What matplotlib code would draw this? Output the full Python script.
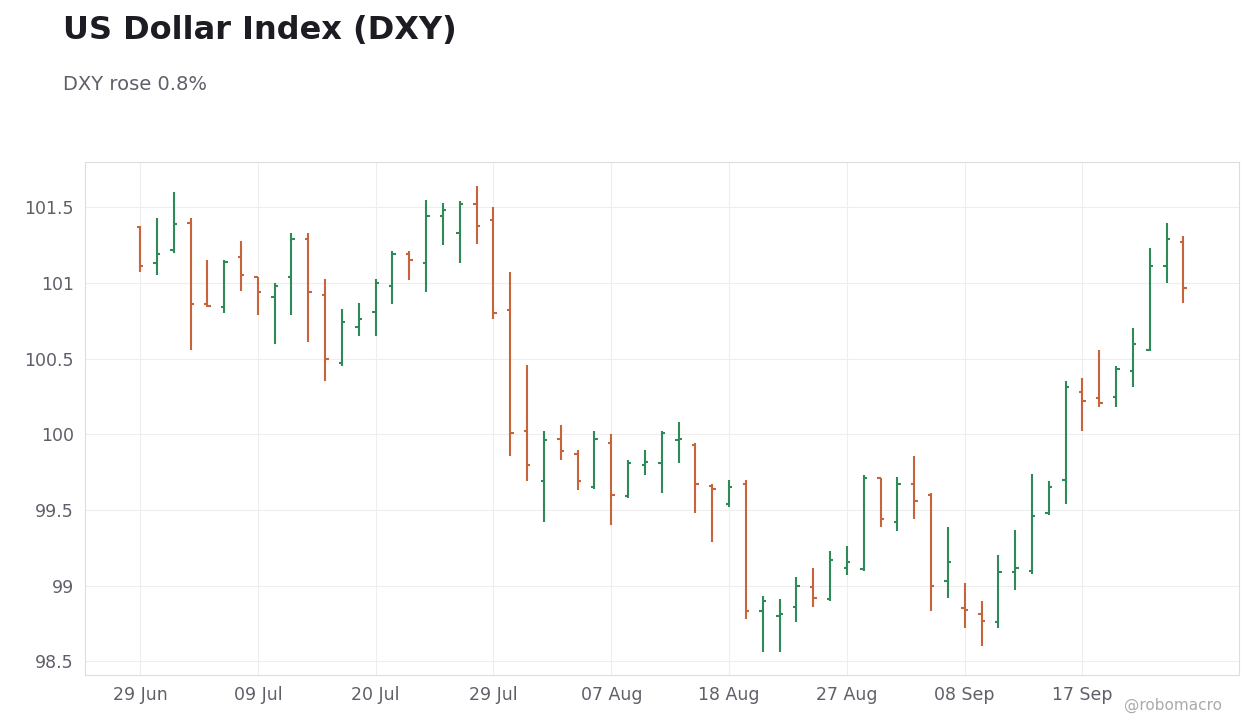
import matplotlib
matplotlib.use("Agg")
import matplotlib.pyplot as plt

opens  = [101.37,101.13,101.22,101.40,100.86,100.84,101.17,101.04,100.91,101.04,101.29,100.92,100.47,100.71,100.81,100.98,101.19,101.13,101.44,101.33,101.52,101.42,100.82,100.02,99.69,99.97,99.87,99.65,99.94,99.59,99.80,99.81,99.96,99.93,99.66,99.54,99.67,98.83,98.80,98.86,98.99,98.91,99.12,99.11,99.71,99.42,99.67,99.60,99.03,98.85,98.81,98.76,99.09,99.10,99.48,99.70,100.28,100.24,100.25,100.42,100.56,101.11,101.27]
highs  = [101.38,101.43,101.60,101.43,101.15,101.15,101.28,101.04,101.00,101.33,101.33,101.03,100.83,100.87,101.03,101.21,101.21,101.55,101.53,101.54,101.64,101.50,101.07,100.46,100.02,100.06,99.90,100.02,100.00,99.83,99.90,100.02,100.08,99.94,99.67,99.70,99.70,98.93,98.91,99.06,99.12,99.23,99.26,99.73,99.71,99.72,99.86,99.61,99.39,99.02,98.90,99.20,99.37,99.74,99.69,100.35,100.37,100.56,100.45,100.70,101.23,101.40,101.31]
lows   = [101.07,101.05,101.20,100.56,100.84,100.80,100.95,100.79,100.60,100.79,100.61,100.35,100.45,100.65,100.65,100.86,101.02,100.94,101.25,101.13,101.26,100.76,99.86,99.69,99.42,99.83,99.63,99.64,99.40,99.58,99.73,99.61,99.81,99.48,99.29,99.52,98.78,98.56,98.56,98.76,98.86,98.90,99.07,99.10,99.39,99.36,99.44,98.83,98.92,98.72,98.60,98.72,98.97,99.08,99.47,99.54,100.02,100.18,100.18,100.31,100.55,101.00,100.87]
closes = [101.11,101.19,101.39,100.86,100.85,101.14,101.05,100.94,100.98,101.29,100.94,100.50,100.74,100.76,101.00,101.19,101.15,101.44,101.48,101.52,101.38,100.80,100.01,99.80,99.96,99.89,99.69,99.97,99.60,99.81,99.82,100.01,99.97,99.67,99.64,99.65,98.83,98.90,98.81,99.00,98.92,99.17,99.16,99.71,99.44,99.67,99.56,99.00,99.16,98.84,98.77,99.09,99.12,99.46,99.65,100.31,100.22,100.21,100.43,100.60,101.11,101.29,100.97]
tick_labels = ["29 Jun","09 Jul","20 Jul","29 Jul","07 Aug","18 Aug","27 Aug","08 Sep","17 Sep"]
yticks = [98.5, 99, 99.5, 100, 100.5, 101, 101.5]
ytick_labels = ["98.5","99","99.5","100","100.5","101","101.5"]

UP, DOWN = "#2e8b57", "#c8643c"
fig = plt.figure(figsize=(12.6, 7.28), dpi=100)
ax = fig.add_axes([85/1260, 1-675/728, (1239-85)/1260, (675-162)/728])
w = 0.2
for i, (o, h, l, c) in enumerate(zip(opens, highs, lows, closes)):
    col = UP if c >= o else DOWN
    ax.vlines(i, l, h, color=col, lw=1.5)
    ax.hlines(o, i - w, i, color=col, lw=1.5)
    ax.hlines(c, i, i + w, color=col, lw=1.5)

ax.set_xlim(-3.27, 65.3)
ax.set_ylim(98.41, 101.80)
ax.set_xticks(range(0, 57, 7))
ax.set_xticklabels(tick_labels)
ax.set_yticks(yticks)
ax.set_yticklabels(ytick_labels)
ax.grid(True, color="#eeeeee", lw=0.8)
ax.set_axisbelow(True)
for s in ax.spines.values():
    s.set_color("#dddddd")
ax.tick_params(colors="#5f5f6a", labelsize=12.5, length=0, pad=8)

fig.text(63/1260, 1-30/728, "US Dollar Index (DXY)", fontsize=23, fontweight="bold", color="#1c1c22", va="center")
fig.text(63/1260, 1-85/728, "DXY rose 0.8%", fontsize=14, color="#5f5f6a", va="center")
fig.text(1222/1260, 1-705/728, "@robomacro", fontsize=11, color="#aaaaaa", ha="right", va="center")
fig.savefig("out.png", dpi=100)
